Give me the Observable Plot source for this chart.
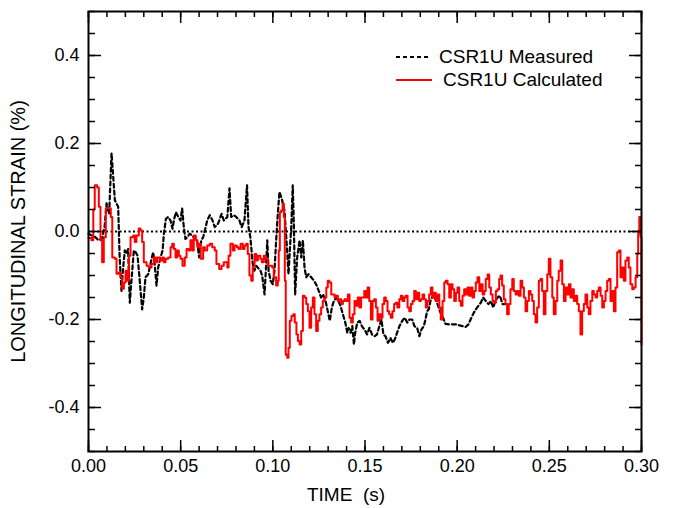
<!DOCTYPE html>
<html><head><meta charset="utf-8">
<script src="https://cdn.jsdelivr.net/npm/d3@7"></script>
<script src="https://cdn.jsdelivr.net/npm/@observablehq/plot@0.6"></script>
<style>
body{margin:0;background:#fff;font-family:"Liberation Sans",Arial,sans-serif;}
#wrap{position:relative;width:673px;height:508px;}
#legend{position:absolute;left:394px;top:45px;font-size:19px;line-height:23px;color:#000;}
#legend .row{display:flex;align-items:center;height:23px;}
#legend svg{margin-right:7px;}
</style></head><body>
<div id="wrap"><div id="chart"></div><div id="legend"></div></div>
<script>
// ---- data (time in ms, strain in %) ----
const seriesNames = ["CSR1U Measured", "CSR1U Calculated"];
const measuredTime = [0,2.2,3.8,5.4,7.4,8.7,9.8,11.2,12.5,14.3,16.1,16.9,17.9,18.8,19.7,20.6,21.5,22.4,23.3,24.6,25.6,26.6,27.5,29.1,30.0,30.9,32.4,33.2,34.2,35.1,35.9,36.9,37.8,39.1,40.2,40.9,42.0,43.2,44.5,45.6,46.3,47.4,48.7,49.9,50.8,51.7,52.6,53.7,54.9,56.4,57.6,58.9,60.0,61.2,62.2,63.1,64.4,65.8,67.3,68.5,70.3,72.2,73.4,75.3,76.5,77.4,78.8,80.1,81.9,83.1,84.6,86.0,86.8,87.8,89.1,90.0,91.0,91.8,93.3,94.2,95.5,96.2,97.0,97.7,98.8,100.0,100.9,101.8,102.7,103.6,104.8,106.3,107.4,108.5,109.2,110.0,110.8,111.4,112.1,113.2,114.5,115.4,116.3,117.2,118.1,119.4,120.8,122.3,123.5,124.9,126.2,127.3,128.6,129.8,130.9,132.0,133.1,134.4,135.6,136.7,138.0,139.3,140.4,141.1,142.2,143.1,144.0,144.7,145.8,147.1,148.3,150.2,151.1,152.4,153.8,155.3,156.5,157.8,158.9,160.0,161.1,162.5,163.8,165.1,166.2,167.4,168.7,170.2,171.6,172.9,174.1,175.6,176.8,178.3,179.5,180.6,181.9,182.8,183.7,184.6,185.5,186.4,187.3,188.6,189.7,190.6,191.9,193.7,195.5,197.3,199.1,201.0,202.8,204.6,206.1,207.3,208.6,210.1,211.5,212.8,214.1,215.5,217.0,218.3,219.6,220.7,221.9,223.2,224.6,226.2];
const measuredValue = [-0.005,-0.01,-0.013,-0.02,-0.016,0.01,0.064,0.04,0.178,0.071,0.056,-0.059,-0.135,-0.082,-0.043,-0.051,-0.04,-0.162,-0.112,-0.043,-0.047,-0.055,-0.097,-0.177,-0.15,-0.104,-0.097,-0.082,-0.062,-0.047,-0.074,-0.123,-0.082,-0.059,-0.043,-0.005,0.029,0.033,0.025,0.006,0.025,0.044,0.033,0.025,0.052,0.01,-0.017,-0.013,-0.005,-0.009,-0.017,-0.02,-0.059,-0.02,-0.013,0.002,0.025,0.037,0.025,0.01,0.018,0.04,0.025,0.033,0.098,0.033,0.037,0.033,0.025,0.01,0.025,0.105,0.01,-0.013,-0.074,-0.089,-0.078,-0.082,-0.089,-0.1,-0.143,-0.089,-0.02,-0.089,-0.112,-0.12,-0.089,-0.02,0.04,0.09,0.075,0.048,-0.02,-0.097,-0.043,0.01,0.105,0.018,-0.143,-0.059,-0.02,-0.059,-0.02,-0.082,-0.104,-0.097,-0.104,-0.112,-0.12,-0.135,-0.15,-0.143,-0.158,-0.181,-0.203,-0.173,-0.158,-0.15,-0.158,-0.169,-0.188,-0.207,-0.23,-0.219,-0.23,-0.215,-0.257,-0.23,-0.207,-0.203,-0.215,-0.226,-0.234,-0.219,-0.234,-0.238,-0.234,-0.215,-0.2,-0.234,-0.238,-0.253,-0.242,-0.253,-0.245,-0.23,-0.215,-0.203,-0.196,-0.207,-0.2,-0.2,-0.215,-0.219,-0.238,-0.223,-0.215,-0.2,-0.181,-0.177,-0.158,-0.15,-0.143,-0.158,-0.169,-0.181,-0.192,-0.21,-0.211,-0.211,-0.211,-0.213,-0.215,-0.217,-0.211,-0.2,-0.188,-0.177,-0.169,-0.162,-0.15,-0.158,-0.165,-0.158,-0.173,-0.158,-0.15,-0.146,-0.165,-0.165];
const calculatedTime = [0,1.6,2.6,3.4,4.7,5.6,6.5,7.4,8.3,9.4,11.0,12.1,12.9,14.3,15.2,16.4,17.4,18.3,19.2,20.1,21.0,21.9,22.8,24.3,25.1,26.0,27.3,28.2,29.1,30.0,31.5,32.7,34.2,35.4,36.4,37.3,38.7,40.0,40.9,41.8,43.2,44.5,45.4,46.3,47.2,48.1,49.0,49.9,51.0,52.2,53.2,54.4,55.3,56.4,57.1,58.2,59.1,60.1,60.9,62.2,63.1,64.4,65.8,67.1,68.5,69.4,70.9,72.2,73.4,75.3,76.0,77.0,78.3,79.2,80.5,81.4,82.5,83.7,84.6,85.6,86.4,87.3,88.3,89.1,90.1,91.0,91.9,93.2,94.0,95.1,96.0,97.3,98.6,99.7,100.5,101.8,102.7,103.2,103.8,104.5,105.3,106.0,106.5,107.0,107.8,108.5,109.2,110.1,111.1,111.9,112.8,113.6,114.5,115.4,116.3,117.2,118.1,119.0,119.9,120.8,121.7,122.6,123.5,124.4,125.3,126.2,127.1,128.0,129.0,129.8,130.7,131.7,132.5,133.5,134.4,135.3,136.2,137.1,138.0,138.9,139.8,140.7,141.6,142.5,143.4,144.3,145.2,146.1,147.0,147.9,148.7,149.6,150.4,151.4,152.3,153.2,154.1,155.0,155.9,156.8,157.7,158.6,159.5,160.4,161.3,162.2,163.1,164.0,164.9,165.8,166.7,167.6,168.6,169.4,170.4,171.3,172.1,173.1,174.0,174.9,175.8,176.7,177.6,178.5,179.4,180.3,181.2,182.1,183.0,183.9,184.8,185.7,186.6,187.5,188.4,189.3,190.3,191.1,192.1,193.0,193.8,194.8,195.7,196.6,197.5,198.4,199.3,200.2,201.1,202.0,202.9,203.8,204.7,205.6,206.5,207.4,208.3,209.2,210.1,211.0,212.0,212.8,213.8,214.7,215.5,216.5,217.4,218.3,219.2,220.1,221.0,221.9,222.8,223.5,224.4,225.3,226.2,227.1,228.0,228.9,229.9,230.7,231.7,232.6,233.4,234.4,235.3,236.2,237.1,238.0,238.9,239.8,240.7,241.6,242.5,243.4,244.3,245.2,246.1,247.0,247.9,248.9,249.7,250.6,251.6,252.4,253.4,254.3,255.1,256.1,257.0,257.9,258.8,259.7,260.6,261.5,262.4,263.3,264.2,265.1,266.0,266.9,267.8,268.7,269.6,270.6,271.4,272.3,273.3,274.1,275.1,276.0,276.8,277.8,278.7,279.6,280.5,281.4,282.3,283.2,284.1,285.0,285.9,286.8,287.7,288.6,289.5,290.4,291.3,292.3,293.1,294.0,295.0,295.8,296.8,297.7,298.2,298.8,299.5,300.0];
const calculatedValue = [-0.015,-0.02,0.05,0.105,0.10,0.056,-0.02,-0.07,-0.013,0.053,0.053,0.033,-0.059,-0.062,-0.096,-0.093,-0.104,-0.13,-0.116,-0.089,-0.112,-0.055,-0.013,-0.009,-0.024,-0.009,0.007,0.002,-0.024,-0.07,-0.078,-0.082,-0.074,-0.059,-0.07,-0.059,-0.066,-0.059,-0.07,-0.062,-0.059,-0.036,-0.028,-0.04,-0.059,-0.043,-0.055,-0.062,-0.078,-0.059,-0.04,-0.043,-0.02,-0.043,-0.009,-0.02,-0.036,-0.028,-0.062,-0.036,-0.043,-0.032,-0.028,-0.036,-0.043,-0.074,-0.085,-0.078,-0.07,-0.082,-0.055,-0.028,-0.043,-0.032,-0.036,-0.04,-0.028,-0.04,-0.032,-0.028,-0.051,-0.1,-0.112,-0.082,-0.051,-0.066,-0.055,-0.062,-0.07,-0.055,-0.062,-0.078,-0.078,-0.082,-0.104,-0.123,-0.112,-0.043,0.044,0.048,0.063,0.033,-0.112,-0.28,-0.287,-0.264,-0.203,-0.192,-0.188,-0.207,-0.234,-0.249,-0.257,-0.226,-0.146,-0.15,-0.165,-0.181,-0.219,-0.173,-0.15,-0.188,-0.226,-0.203,-0.188,-0.173,-0.158,-0.15,-0.127,-0.112,-0.116,-0.143,-0.143,-0.15,-0.146,-0.158,-0.154,-0.165,-0.158,-0.154,-0.158,-0.143,-0.196,-0.207,-0.188,-0.158,-0.169,-0.15,-0.173,-0.15,-0.15,-0.135,-0.15,-0.127,-0.158,-0.2,-0.158,-0.154,-0.173,-0.203,-0.188,-0.196,-0.165,-0.15,-0.158,-0.181,-0.188,-0.196,-0.181,-0.165,-0.162,-0.173,-0.154,-0.146,-0.158,-0.15,-0.146,-0.173,-0.181,-0.165,-0.158,-0.135,-0.154,-0.139,-0.158,-0.154,-0.143,-0.154,-0.173,-0.158,-0.143,-0.127,-0.15,-0.139,-0.158,-0.143,-0.173,-0.2,-0.158,-0.116,-0.112,-0.12,-0.15,-0.12,-0.131,-0.158,-0.139,-0.127,-0.158,-0.169,-0.146,-0.131,-0.143,-0.127,-0.146,-0.127,-0.15,-0.135,-0.116,-0.104,-0.135,-0.12,-0.143,-0.135,-0.108,-0.098,-0.127,-0.143,-0.158,-0.162,-0.135,-0.131,-0.108,-0.1,-0.123,-0.154,-0.165,-0.188,-0.165,-0.131,-0.108,-0.135,-0.143,-0.135,-0.146,-0.112,-0.127,-0.15,-0.181,-0.158,-0.135,-0.143,-0.158,-0.188,-0.207,-0.173,-0.112,-0.108,-0.135,-0.188,-0.135,-0.097,-0.062,-0.104,-0.15,-0.188,-0.158,-0.112,-0.089,-0.066,-0.12,-0.158,-0.127,-0.143,-0.12,-0.15,-0.131,-0.158,-0.146,-0.165,-0.181,-0.234,-0.181,-0.165,-0.143,-0.173,-0.188,-0.158,-0.135,-0.143,-0.15,-0.135,-0.127,-0.146,-0.173,-0.158,-0.135,-0.112,-0.108,-0.158,-0.135,-0.181,-0.127,-0.047,-0.043,-0.104,-0.082,-0.112,-0.066,-0.059,-0.082,-0.12,-0.131,-0.127,-0.104,-0.051,-0.005,0.033,-0.013,-0.257];
const xMajorTicks = [0, 0.05, 0.10, 0.15, 0.20, 0.25, 0.30];
const xMinorTicks = d3.range(0, 31).map(i => i / 100);
const yMajorTicks = [-0.4, -0.2, 0.0, 0.2, 0.4];
const yMinorTicks = d3.range(-10, 11).map(i => i / 20);
const xTitle = "TIME  (s)";
const yTitle = "LONGITUDINAL STRAIN (%)";

const measured = measuredTime.map((t, i) => ({t: t / 1000, v: measuredValue[i]}));
const calculated = calculatedTime.map((t, i) => ({t: t / 1000, v: calculatedValue[i]}));

const noText = {tickFormat: () => "", label: null, strokeWidth: 1.5};
// inward ticks: draw with the opposite anchor's tick shape, placed on each frame edge
const inX = (ticks, edge, size) => Plot.axisX(ticks, {anchor: edge === "bottom" ? "top" : "bottom", frameAnchor: edge, tickSize: size, ...noText});
const inY = (ticks, edge, size) => Plot.axisY(ticks, {anchor: edge === "left" ? "right" : "left", frameAnchor: edge, tickSize: size, ...noText});

const chart = Plot.plot({
  width: 673, height: 508,
  marginLeft: 88, marginRight: 32, marginTop: 11, marginBottom: 57,
  style: {fontFamily: "'Liberation Sans', Arial, sans-serif", fontSize: "18px", background: "white", color: "black"},
  x: {domain: [0, 0.3]},
  y: {domain: [-0.5, 0.5]},
  marks: [
    Plot.ruleY([0], {stroke: "black", strokeWidth: 2, strokeDasharray: "2,2.5"}),
    Plot.line(measured, {x: "t", y: "v", stroke: "black", strokeWidth: 2.2, strokeDasharray: "4,3"}),
    Plot.line(calculated, {x: "t", y: "v", stroke: "#ff0000", strokeWidth: 2, curve: "step-after"}),
    Plot.frame({stroke: "black", strokeWidth: 2}),
    inX(xMinorTicks, "bottom", 6), inX(xMinorTicks, "top", 6),
    inX(xMajorTicks, "bottom", 12), inX(xMajorTicks, "top", 12),
    inY(yMinorTicks, "left", 6), inY(yMinorTicks, "right", 6),
    inY(yMajorTicks, "left", 12), inY(yMajorTicks, "right", 12),
    Plot.axisX(xMajorTicks, {anchor: "bottom", tickSize: 0, tickPadding: 8, tickFormat: d => d.toFixed(2), label: null}),
    Plot.axisY(yMajorTicks, {anchor: "left", tickSize: 0, tickPadding: 9, tickFormat: d => d.toFixed(1), label: null}),
    Plot.text([xTitle], {frameAnchor: "bottom", dx: -19, dy: 43, textAnchor: "middle", lineAnchor: "middle", fontSize: 19}),
    Plot.text([yTitle], {frameAnchor: "left", dx: -70, rotate: -90, textAnchor: "middle", lineAnchor: "middle", fontSize: 20})
  ]
});
document.getElementById("chart").appendChild(chart);

// legend inside the plot area
const legendStyles = [
  {stroke: "black", dash: "4,3", w: 32},
  {stroke: "#ff0000", dash: null, w: 36}
];
const legend = document.getElementById("legend");
seriesNames.forEach((name, i) => {
  const s = legendStyles[i];
  const row = document.createElement("div");
  row.className = "row";
  row.innerHTML = `<svg width="${s.w + 6}" height="10"><line x1="2" y1="5" x2="${s.w + 2}" y2="5" stroke="${s.stroke}" stroke-width="2" ${s.dash ? `stroke-dasharray="${s.dash}"` : ""}/></svg><span>${name}</span>`;
  legend.appendChild(row);
});
</script>
</body></html>
